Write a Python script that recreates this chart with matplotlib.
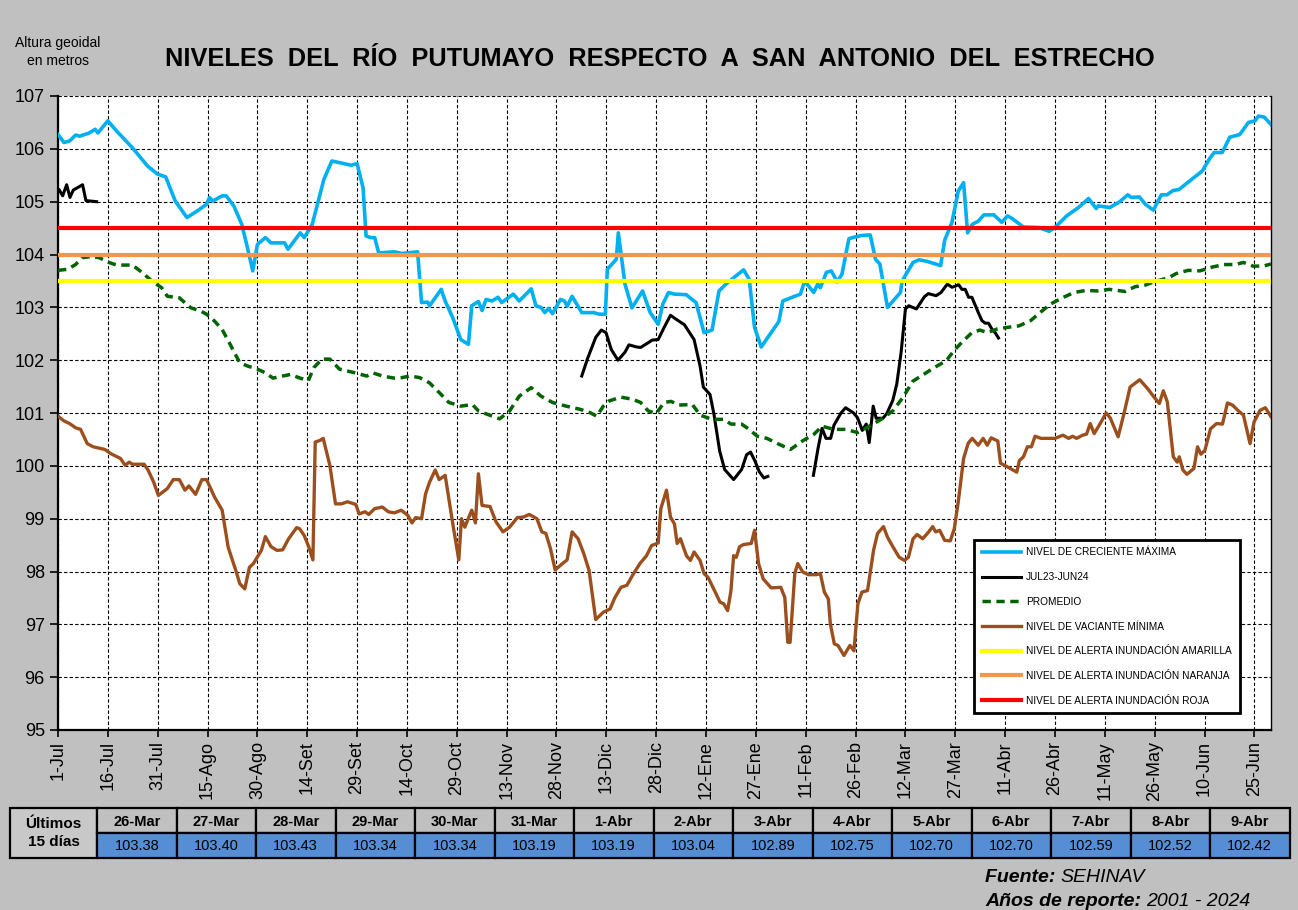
import numpy as np
import matplotlib
matplotlib.use('Agg')
import matplotlib.pyplot as plt
from matplotlib.patches import Rectangle

plt.rcParams['font.family'] = ['Liberation Sans', 'DejaVu Sans']

nan = np.nan

# eje x: dias desde el 1-Jul
tick_days = list(range(0, 361, 15))
tick_labels = ['1-Jul', '16-Jul', '31-Jul', '15-Ago', '30-Ago', '14-Set', '29-Set',
               '14-Oct', '29-Oct', '13-Nov', '28-Nov', '13-Dic', '28-Dic', '12-Ene',
               '27-Ene', '11-Feb', '26-Feb', '12-Mar', '27-Mar', '11-Abr', '26-Abr',
               '11-May', '26-May', '10-Jun', '25-Jun']

# nivel de creciente maxima
max_days = [0, 1.8, 3.5, 5.3, 6.5, 9.4, 11.2, 12, 15, 17.6, 22.4, 27, 30, 32.4, 35.3,
            38.8, 41.8, 44.7, 45.6, 46.5, 49.4, 50.6, 52.9, 55.3, 57, 58.6, 60, 62.4,
            64.1, 68.2, 69.2, 72.9, 74.1, 76.5, 80, 82.4, 88.2, 90, 91.8, 92.7, 94.1,
            95.3, 96.5, 101.2, 103.5, 108.2, 109.4, 111.2, 111.8, 115.3, 116.5, 118.8,
            121.2, 123.5, 124.5, 126.5, 127.6, 128.8, 130.6, 132.4, 133.5, 137, 138.8,
            142.4, 143.8, 145.3, 146.5, 147.6, 148.8, 151.2, 152.4, 153.2, 154.7, 157.6,
            161.2, 162.9, 164.7, 165.3, 168, 168.6, 170.6, 172.7, 175.9, 178.2, 180.6,
            182, 183.7, 185.5, 189, 192, 194.4, 196.8, 198.9, 201, 203.3, 206.3, 208,
            209.6, 211.6, 216.9, 218.1, 220.5, 223.4, 224.7, 227.4, 228.6, 229.4, 231.2,
            232.7, 234.5, 235.9, 238, 239.7, 241.8, 244.4, 246, 247.3, 249.6, 253.5, 254,
            257.3, 259.1, 261.5, 265.6, 266.8, 269, 270.9, 272.5, 273.7, 275.1, 276.9,
            278.6, 281.6, 284, 285.7, 286.9, 290.5, 295.2, 298.2, 300, 303.5, 307.1,
            310.1, 312.4, 313, 316.5, 319.5, 321.9, 323, 325.4, 327.2, 329.6, 332, 333.7,
            335.5, 337.3, 340.3, 344.3, 346.7, 347.9, 350.3, 352.6, 355.6, 358.2, 360.2,
            361.2, 363, 365]
max_vals = [106.27, 106.12, 106.15, 106.26, 106.24, 106.3, 106.37, 106.3, 106.53, 106.34,
            106.02, 105.67, 105.52, 105.47, 105.01, 104.7, 104.82, 104.95, 105.08, 105.01,
            105.11, 105.11, 104.92, 104.57, 104.13, 103.69, 104.19, 104.32, 104.22, 104.22,
            104.1, 104.41, 104.32, 104.57, 105.42, 105.77, 105.69, 105.72, 105.26, 104.35,
            104.32, 104.32, 104.03, 104.05, 104.02, 104.05, 103.09, 103.1, 103.03, 103.34,
            103.12, 102.8, 102.39, 102.3, 103.03, 103.11, 102.94, 103.15, 103.12, 103.19,
            103.09, 103.25, 103.12, 103.35, 103.03, 103.0, 102.9, 102.98, 102.88, 103.15,
            103.12, 103.02, 103.21, 102.9, 102.9, 102.87, 102.87, 103.72, 103.91, 104.41,
            103.44, 102.99, 103.31, 102.9, 102.68, 103.06, 103.28, 103.25, 103.24, 103.09,
            102.52, 102.57, 103.31, 103.44, 103.56, 103.71, 103.53, 102.62, 102.25, 102.73,
            103.12, 103.18, 103.25, 103.5, 103.28, 103.44, 103.37, 103.66, 103.69, 103.48,
            103.63, 104.3, 104.33, 104.36, 104.37, 103.91, 103.82, 103.0, 103.28, 103.5,
            103.85, 103.9, 103.87, 103.79, 104.27, 104.61, 105.2, 105.36, 104.41, 104.57,
            104.63, 104.75, 104.75, 104.61, 104.73, 104.69, 104.52, 104.51, 104.44, 104.51,
            104.73, 104.89, 105.06, 104.87, 104.92, 104.89, 105.0, 105.13, 105.08, 105.09,
            104.95, 104.84, 105.13, 105.13, 105.21, 105.23, 105.38, 105.58, 105.83, 105.93,
            105.93, 106.22, 106.27, 106.5, 106.53, 106.62, 106.6, 106.46]

# ultimos 15 dias (tabla) - 26-Mar a 9-Abr
table_dates = ['26-Mar', '27-Mar', '28-Mar', '29-Mar', '30-Mar', '31-Mar', '1-Abr', '2-Abr',
               '3-Abr', '4-Abr', '5-Abr', '6-Abr', '7-Abr', '8-Abr', '9-Abr']
table_vals = [103.38, 103.40, 103.43, 103.34, 103.34, 103.19, 103.19, 103.04,
              102.89, 102.75, 102.70, 102.70, 102.59, 102.52, 102.42]
table_days = list(range(269, 284))

# JUL23-JUN24 (con vacios)
jul_days = [0.4, 1.4, 2.6, 3.6, 4.6, 7.4, 8.4, 11.6, nan,
            157.6, 159.4, 161.8, 163.5, 164.9, 166.5, 168.5, 170.6, 171.8, 174.1, 175.3,
            177.6, 178.8, 180.6, 182.4, 184.3, 186.1, 188.5, 191.4, 193.2, 194.2, 196.2,
            197.4, 199.1, 200.6, 203.3, 205.7, 207.2, 208.4, 209.8, 211, 212.4, 213.6, nan,
            227.3, 228.7, 229.9, 231.1, 232.5, 233.5, 235.6, 237, 239.4, 240.6, 242, 243.2,
            244.1, 245.3, 246.2, 248.2, 249.4, 251.2, 252.4, 253.7, 255, 256, 258.3, 260.7,
            261.9, 264.2, 265.7, 267.6] + table_days
jul_vals = [105.22, 105.11, 105.32, 105.08, 105.22, 105.32, 105.02, 105.0, nan,
            101.7, 102.04, 102.43, 102.57, 102.52, 102.2, 102.0, 102.15, 102.29, 102.25,
            102.24, 102.33, 102.38, 102.39, 102.62, 102.85, 102.77, 102.67, 102.39, 101.89,
            101.49, 101.35, 100.97, 100.28, 99.93, 99.74, 99.93, 100.21, 100.26, 100.08,
            99.89, 99.77, 99.8, nan,
            99.82, 100.33, 100.71, 100.52, 100.52, 100.77, 101.0, 101.1, 101.0, 100.91,
            100.67, 100.79, 100.44, 101.13, 100.9, 100.9, 100.99, 101.24, 101.55, 102.15,
            102.97, 103.03, 102.97, 103.2, 103.26, 103.22, 103.28, 103.44] + table_vals

# promedio
prom_days = [0, 2.9, 5.3, 7.1, 10, 12.4, 15.3, 17.6, 22.4, 25.3, 28.2, 31.2, 32.9, 36.5,
             40, 42.9, 44.7, 47.1, 49.4, 51.8, 54.7, 57, 60, 62.4, 64.7, 67.6, 70, 72.4,
             75.3, 77, 79.4, 81.8, 84.7, 89.4, 92.9, 94.7, 97.6, 101.2, 103.5, 105.9, 108.8,
             111.8, 115.3, 117.6, 121.2, 124.7, 126.5, 129.4, 132.9, 135.9, 138.8, 142.4,
             145.3, 148.8, 152.9, 157.1, 160, 162.1, 164.1, 165.9, 169.4, 172.9, 175.3,
             177.6, 180, 182.4, 184.5, 186.7, 190.9, 193.2, 196.8, 200.3, 202.5, 205.7, 208,
             210.4, 213.3, 216.9, 220.4, 224, 227.5, 229.9, 233.5, 237, 240.6, 244.1, 247.7,
             251.2, 254.2, 257.2, 260.7, 263.7, 267.3, 269.6, 272, 275, 277.4, 279.7, 282.6,
             285.6, 289.2, 292.7, 295.7, 298.6, 302.2, 305.7, 309.3, 312.8, 316.4, 321.1,
             324.1, 327.1, 330.6, 334.2, 336.5, 340.1, 343.6, 347.2, 350.8, 354.3, 356.7,
             359.6, 362.6, 365]
prom_vals = [103.7, 103.72, 103.81, 103.94, 103.96, 103.94, 103.85, 103.8, 103.8, 103.66,
             103.5, 103.37, 103.21, 103.18, 102.99, 102.93, 102.87, 102.74, 102.58, 102.3,
             101.95, 101.89, 101.83, 101.76, 101.66, 101.7, 101.73, 101.67, 101.61, 101.86,
             102.02, 102.02, 101.83, 101.76, 101.7, 101.76, 101.7, 101.66, 101.67, 101.7,
             101.67, 101.57, 101.35, 101.2, 101.13, 101.16, 101.04, 100.97, 100.89, 101.04,
             101.32, 101.48, 101.32, 101.2, 101.13, 101.07, 101.01, 100.94, 101.13, 101.23,
             101.3, 101.26, 101.2, 101.04, 100.99, 101.2, 101.22, 101.15, 101.16, 100.96,
             100.88, 100.88, 100.79, 100.79, 100.69, 100.56, 100.52, 100.41, 100.31, 100.47,
             100.6, 100.75, 100.69, 100.69, 100.63, 100.75, 100.88, 101.04, 101.29, 101.6,
             101.74, 101.86, 101.99, 102.18, 102.34, 102.52, 102.57, 102.52, 102.59, 102.62,
             102.65, 102.75, 102.91, 103.06, 103.18, 103.28, 103.32, 103.31, 103.34, 103.3,
             103.39, 103.42, 103.5, 103.56, 103.64, 103.7, 103.69, 103.76, 103.81, 103.81,
             103.85, 103.78, 103.78, 103.82]

# nivel de vaciante minima
min_days = [0, 1.8, 3.5, 5.3, 6.8, 8.8, 10.6, 14.1, 15.9, 18.8, 20.2, 21.4, 22.4, 25.9,
            27.1, 28.8, 30.2, 32.9, 34.7, 36.5, 38.2, 39.4, 41.4, 43.3, 44.7, 47.1, 49.4,
            51.2, 53.5, 54.7, 56.2, 57.6, 58.8, 61.2, 62.4, 64.1, 65.9, 67.6, 69.4, 71.8,
            72.7, 74.1, 75.5, 76.7, 77.4, 78.8, 79.8, 81.8, 83.5, 85.3, 87.1, 89.6, 90.6,
            92.4, 93.5, 95.3, 97.6, 99.4, 101.2, 103.3, 105.3, 106.5, 107.6, 109.4, 110.6,
            111.8, 113.5, 114.7, 116.5, 118.8, 120.6, 121.4, 122.4, 124.5, 125.6, 126.5,
            127.6, 130, 131.8, 133.9, 135.9, 138.2, 140, 141.8, 144.1, 145.6, 146.8, 148.2,
            149.6, 151.8, 153.2, 154.7, 156.5, 158.2, 159.8, 161.8, 164.1, 166.1, 167.6,
            169.4, 171.2, 172.9, 175.1, 177.1, 178.6, 180.6, 181.4, 183.1, 184.3, 185.5,
            186.3, 187.3, 189.1, 190.3, 191.4, 193.2, 194.4, 195.6, 198, 199.2, 200.3,
            201.5, 202.5, 203.3, 204.1, 205.1, 206.3, 208.6, 209.6, 210.8, 212.2, 214.6,
            217.5, 218.7, 219.6, 220.3, 221.7, 222.6, 224.1, 225.8, 228.2, 229.4, 230.6,
            231.8, 232.4, 233.6, 234.7, 236.5, 238.3, 239.5, 240.7, 241.9, 243.6, 245.4,
            246.6, 248.4, 249.6, 251.3, 253.1, 254.7, 255.9, 257.3, 258.5, 260.2, 262,
            263.2, 264.1, 265.3, 266.8, 268.5, 269.7, 270.9, 272.5, 273.9, 275.1, 276.9,
            278.4, 279.6, 280.8, 282.8, 283.6, 285.7, 288.5, 289.3, 290.5, 291.7, 292.9,
            294, 295.8, 298.2, 300, 302.4, 304.1, 305.3, 306.5, 308.3, 309.5, 310.6, 311.8,
            313.6, 315.4, 316.6, 319, 320.8, 322.6, 325.5, 327.9, 329.7, 331.4, 332.6,
            333.8, 335.6, 336.8, 337.4, 338.5, 339.7, 341.8, 342.9, 343.9, 345.1, 346.8,
            348.6, 350.4, 351.9, 353.4, 355.2, 356.7, 358.7, 359.9, 361.7, 363.3, 365]
min_vals = [100.94, 100.85, 100.8, 100.72, 100.69, 100.42, 100.36, 100.31, 100.23, 100.14,
            100.01, 100.07, 100.03, 100.03, 99.92, 99.69, 99.44, 99.57, 99.74, 99.74, 99.54,
            99.62, 99.46, 99.74, 99.74, 99.41, 99.16, 98.46, 98.02, 97.77, 97.67, 98.08,
            98.15, 98.4, 98.66, 98.47, 98.4, 98.41, 98.62, 98.83, 98.81, 98.68, 98.46, 98.22,
            100.45, 100.48, 100.52, 100.01, 99.28, 99.28, 99.32, 99.27, 99.09, 99.13, 99.08,
            99.19, 99.22, 99.13, 99.11, 99.16, 99.06, 98.92, 99.02, 99.0, 99.47, 99.69, 99.92,
            99.74, 99.82, 98.9, 98.22, 99.0, 98.84, 99.16, 98.92, 99.85, 99.25, 99.23, 98.94,
            98.75, 98.84, 99.02, 99.03, 99.08, 99.0, 98.75, 98.72, 98.43, 98.03, 98.15, 98.22,
            98.75, 98.62, 98.34, 98.02, 97.09, 97.23, 97.29, 97.51, 97.7, 97.74, 97.93, 98.15,
            98.3, 98.49, 98.54, 99.19, 99.54, 99.03, 98.9, 98.53, 98.62, 98.3, 98.21, 98.37,
            98.21, 97.96, 97.89, 97.58, 97.42, 97.39, 97.26, 97.64, 98.3, 98.27, 98.47, 98.51,
            98.53, 98.78, 98.15, 97.86, 97.69, 97.7, 97.51, 96.66, 96.66, 97.96, 98.15, 97.99,
            97.94, 97.94, 97.96, 97.61, 97.48, 97.01, 96.63, 96.6, 96.41, 96.6, 96.5, 97.39,
            97.61, 97.64, 98.4, 98.72, 98.85, 98.65, 98.46, 98.27, 98.21, 98.27, 98.62, 98.7,
            98.62, 98.75, 98.85, 98.75, 98.78, 98.59, 98.58, 98.81, 99.32, 100.14, 100.43,
            100.52, 100.39, 100.52, 100.39, 100.53, 100.47, 100.05, 99.98, 99.88, 100.1,
            100.17, 100.36, 100.36, 100.56, 100.52, 100.52, 100.52, 100.58, 100.52, 100.56,
            100.52, 100.58, 100.6, 100.8, 100.61, 100.8, 101.0, 100.91, 100.55, 101.0, 101.49,
            101.63, 101.46, 101.31, 101.18, 101.42, 101.21, 100.17, 100.07, 100.17, 99.92,
            99.84, 99.95, 100.36, 100.22, 100.29, 100.7, 100.8, 100.79, 101.19, 101.15, 101.04,
            100.96, 100.42, 100.83, 101.05, 101.1, 100.93]

alerta_amarilla = 103.5
alerta_naranja = 104.0
alerta_roja = 104.5

W, H = 1298, 910
fig = plt.figure(figsize=(W / 100, H / 100), dpi=100, facecolor='#C0C0C0')
ax = fig.add_axes([58 / W, 1 - 730 / H, 1213 / W, 634 / H])
ax.set_facecolor('white')

ax.plot(max_days, max_vals, color='#00B0F0', lw=2.6, label='NIVEL DE CRECIENTE MÁXIMA', zorder=3)
ax.plot(jul_days, jul_vals, color='black', lw=2.2, label='JUL23-JUN24', zorder=3)
ax.plot(prom_days, prom_vals, color='#006400', lw=2.5, dashes=(2.4, 1.6),
        label='PROMEDIO', zorder=3)
ax.plot(min_days, min_vals, color='#9C4F1C', lw=2.4, label='NIVEL DE VACIANTE MÍNIMA', zorder=3)
ax.axhline(alerta_amarilla, color='#FFFF00', lw=3, label='NIVEL DE ALERTA INUNDACIÓN AMARILLA', zorder=4)
ax.axhline(alerta_naranja, color='#F79646', lw=3, label='NIVEL DE ALERTA INUNDACIÓN NARANJA', zorder=4)
ax.axhline(alerta_roja, color='#FF0000', lw=3, label='NIVEL DE ALERTA INUNDACIÓN ROJA', zorder=4)

ax.set_xlim(0, 365)
ax.set_ylim(95, 107)
ax.set_yticks(range(95, 108))
ax.set_xticks(tick_days)
ax.set_xticklabels(tick_labels, rotation=90)
ax.tick_params(axis='y', labelsize=13, direction='out', length=6, width=1.2)
ax.tick_params(axis='x', labelsize=13, direction='out', length=5, width=1.2, pad=3)
ax.grid(True, color='black', lw=0.8, linestyle=(0, (3, 2)), zorder=1)
ax.set_axisbelow(True)
for s in ['left', 'bottom']:
    ax.spines[s].set_linewidth(1.6)
ax.spines['top'].set_visible(False)
ax.spines['right'].set_linewidth(1.0)

leg = ax.legend(loc='upper left', bbox_to_anchor=(0.751, 0.308), fontsize=7.3,
                frameon=True, fancybox=False, framealpha=1, edgecolor='black',
                handlelength=3.9, handletextpad=0.5, labelspacing=1.45, borderpad=0.75)
leg.get_frame().set_linewidth(2)

fig.text(660 / W, 1 - 59 / H, 'NIVELES  DEL  RÍO  PUTUMAYO  RESPECTO  A  SAN  ANTONIO  DEL  ESTRECHO',
         ha='center', va='center', fontsize=18.3, fontweight='bold')
fig.text(58 / W, 1 - 52 / H, 'Altura geoidal\nen metros', ha='center', va='center',
         fontsize=10, linespacing=1.3)

# tabla ultimos 15 dias
tax = fig.add_axes([0, 0, 1, 1])
tax.set_xlim(0, W)
tax.set_ylim(H, 0)
tax.axis('off')
x0, x1, cw = 10, 97, 79.5
r0, r1, r2 = 808, 833, 858
tax.add_patch(Rectangle((x0, r0), x1 - x0, r2 - r0, facecolor='#C8C8C8', edgecolor='black', lw=1.6))
tax.text((x0 + x1) / 2, (r0 + r2) / 2, 'Últimos\n15 días', ha='center', va='center',
         fontsize=11, fontweight='bold', linespacing=1.3)
for i, (d, v) in enumerate(zip(table_dates, table_vals)):
    cx = x1 + i * cw
    tax.add_patch(Rectangle((cx, r0), cw, r1 - r0, facecolor='#C0C0C0', edgecolor='black', lw=1.6))
    tax.add_patch(Rectangle((cx, r1), cw, r2 - r1, facecolor='#558ED5', edgecolor='black', lw=1.6))
    tax.text(cx + cw / 2, (r0 + r1) / 2 + 1, d, ha='center', va='center', fontsize=10.5,
             fontweight='bold')
    tax.text(cx + cw / 2, (r1 + r2) / 2 + 1, '%.2f' % v, ha='center', va='center',
             fontsize=10.5)

t1 = tax.text(985, 877, 'Fuente: ', ha='left', va='center', fontsize=14,
              fontweight='bold', style='italic')
tax.annotate('SEHINAV', xy=(1, 0), xycoords=t1, ha='left', va='bottom',
             fontsize=14, style='italic')
t2 = tax.text(985, 901, 'Años de reporte: ', ha='left', va='center', fontsize=14,
              fontweight='bold', style='italic')
tax.annotate('2001 - 2024', xy=(1, 0), xycoords=t2, ha='left', va='bottom',
             fontsize=14, style='italic')

fig.savefig('out.png', dpi=100, facecolor=fig.get_facecolor())
